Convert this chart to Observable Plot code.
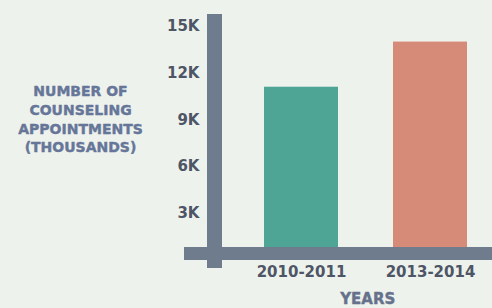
<!DOCTYPE html>
<html>
<head>
<meta charset="utf-8">
<script src="https://cdn.jsdelivr.net/npm/d3@7"></script>
<script src="https://cdn.jsdelivr.net/npm/@observablehq/plot@0.6"></script>
<style>
  html, body { margin: 0; padding: 0; background: #eef2ec; }
  #chart { width: 492px; height: 308px; overflow: hidden; }
</style>
</head>
<body>
<div id="chart"></div>
<script>
const years = ["2010-2011", "2013-2014"];
const appointments = [11100, 14000];
const barColors = ["#4ea596", "#d68a78"];
const yTicks = [3000, 6000, 9000, 12000, 15000];
const yTickLabels = ["3K", "6K", "9K", "12K", "15K"];
const yLabel = "NUMBER OF\nCOUNSELING\nAPPOINTMENTS\n(THOUSANDS)";
const xLabel = "YEARS";

const data = years.map((y, i) => ({year: y, value: appointments[i], color: barColors[i]}));
const axisColor = "#6f7c8e";
const font = "'DejaVu Sans', sans-serif";

function axisBars(index, scales, values, dimensions) {
  const {width, marginLeft} = dimensions;
  const g = d3.create("svg:g");
  const y0 = scales.y(0), yTop = scales.y(15000);
  // vertical axis bar
  g.append("rect")
    .attr("x", marginLeft - 7.5).attr("width", 15)
    .attr("y", yTop - 12).attr("height", (y0 + 8.5) - (yTop - 12))
    .attr("fill", axisColor);
  // horizontal axis bar
  g.append("rect")
    .attr("x", marginLeft - 30.5).attr("width", width - (marginLeft - 30.5))
    .attr("y", y0 - 12.5).attr("height", 13)
    .attr("fill", axisColor);
  return g.node();
}

const chart = Plot.plot({
  width: 492,
  height: 308,
  marginTop: 26,
  marginBottom: 48.5,
  marginLeft: 214.5,
  marginRight: 0,
  style: {background: "#eef2ec", fontFamily: font, overflow: "visible"},
  x: {domain: years, range: [236.5, 494.5], paddingInner: 0.426, paddingOuter: 0.213, axis: null},
  y: {domain: [0, 15000], axis: null},
  marks: [
    Plot.barY(data, {x: "year", y: "value", fill: "color"}),
    axisBars,
    Plot.axisY({
      ticks: yTicks,
      tickFormat: d => yTickLabels[yTicks.indexOf(d)],
      tickSize: 0,
      tickPadding: 15.5,
      fontSize: 15,
      fontWeight: "bold",
      fill: "#4d5566",
      stroke: "#4d5566",
      strokeWidth: 0.4,
      label: null
    }),
    Plot.axisX({
      tickSize: 0,
      tickPadding: 6,
      fontSize: 15,
      fontWeight: "bold",
      fill: "#4d5566",
      stroke: "#4d5566",
      strokeWidth: 0.4,
      label: null,
      style: {letterSpacing: "0.5px"}
    }),
    Plot.text([yLabel], {
      text: d => d,
      frameAnchor: "left",
      textAnchor: "middle",
      dx: -134.5,
      dy: -25,
      fontSize: 14,
      fontWeight: "bold",
      lineHeight: 1.33,
      fill: "#667699",
      stroke: "#667699",
      strokeWidth: 0.4
    }),
    Plot.text([xLabel], {
      text: d => d,
      frameAnchor: "bottom",
      textAnchor: "middle",
      dx: 14,
      dy: 44,
      fontSize: 15,
      fontWeight: "bold",
      fill: "#66718c",
      stroke: "#66718c",
      strokeWidth: 0.4
    })
  ]
});
document.getElementById("chart").appendChild(chart);
</script>
</body>
</html>
